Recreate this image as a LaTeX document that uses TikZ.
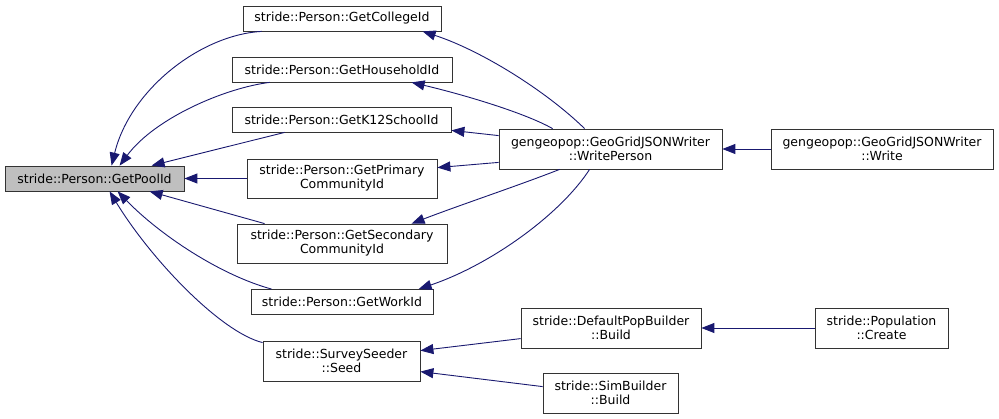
\documentclass[tikz,border=0pt]{standalone}
\usepackage{fontspec}
\setmainfont{DejaVu Sans}
\usetikzlibrary{arrows.meta}
\definecolor{edgec}{HTML}{191970}
\definecolor{poolfill}{HTML}{BFBFBF}
\begin{document}
\begin{tikzpicture}[x=1pt,y=-1pt,
  box/.style={draw=black!80, line width=0.8pt, fill=white, inner sep=0pt, align=center, font=\fontsize{12.5}{14}\selectfont},
  call/.style={draw=edgec, line width=0.9pt, -{Triangle[length=13pt,width=10pt]}}]
\useasboundingbox[fill=white] (0,0) rectangle (999,419);
\node[box, minimum width=179pt, minimum height=25pt, fill=poolfill] (pool) at (94.5,178.5) {stride::Person::GetPoolId};
\node[box, minimum width=198pt, minimum height=25pt] (college) at (342,18.5) {stride::Person::GetCollegeId};
\node[box, minimum width=220pt, minimum height=25pt] (household) at (342,69.5) {stride::Person::GetHouseholdId};
\node[box, minimum width=219pt, minimum height=25pt] (k12) at (341.5,119.5) {stride::Person::GetK12SchoolId};
\node[box, minimum width=190pt, minimum height=39pt] (primary) at (342,178.5) {stride::Person::GetPrimary\\CommunityId};
\node[box, minimum width=210pt, minimum height=39pt] (secondary) at (342,243.5) {stride::Person::GetSecondary\\CommunityId};
\node[box, minimum width=182pt, minimum height=25pt] (work) at (342,302) {stride::Person::GetWorkId};
\node[box, minimum width=157pt, minimum height=40pt] (seed) at (341.5,361) {stride::SurveySeeder\\::Seed};
\node[box, minimum width=223pt, minimum height=40pt] (wp) at (610.5,149) {gengeopop::GeoGridJSONWriter\\::WritePerson};
\node[box, minimum width=222pt, minimum height=40pt] (write) at (882,149) {gengeopop::GeoGridJSONWriter\\::Write};
\node[box, minimum width=180pt, minimum height=40pt] (dpb) at (611,328) {stride::DefaultPopBuilder\\::Build};
\node[box, minimum width=133pt, minimum height=40pt] (create) at (881.5,328) {stride::Population\\::Create};
\node[box, minimum width=135pt, minimum height=40pt] (simb) at (610.5,393) {stride::SimBuilder\\::Build};

\draw[call] ([xshift=19pt]college.south west) .. controls (200,35) and (130,90) .. ([xshift=107pt]pool.north west);
\draw[call] ([xshift=38pt]household.south west) .. controls (225,88) and (155,118) .. ([xshift=115pt]pool.north west);
\draw[call] ([xshift=53pt]k12.south west) -- ([xshift=147pt]pool.north west);
\draw[call] (primary.west) -- (pool.east);
\draw[call] ([xshift=28pt]secondary.north west) -- ([xshift=145pt]pool.south west);
\draw[call] ([xshift=21pt]work.north west) .. controls (220,275) and (160,235) .. ([xshift=113pt]pool.south west);
\draw[call] ([yshift=-2pt]seed.north west) .. controls (220,332) and (150,258) .. ([xshift=105pt]pool.south west);

\draw[call] ([xshift=86pt]wp.north west) .. controls (545,90) and (480,50) .. ([xshift=180pt]college.south west);
\draw[call] ([xshift=54pt]wp.north west) .. controls (525,113) and (465,95) .. ([xshift=180pt]household.south west);
\draw[call] ([yshift=-7pt]wp.north west) -- ([yshift=2pt]k12.south east);
\draw[call] ([yshift=7pt]wp.south west) -- ([yshift=-9pt]primary.north east);
\draw[call] ([xshift=61pt]wp.south west) .. controls (520,185) and (460,205) .. ([xshift=175pt]secondary.north west);
\draw[call] ([xshift=91pt]wp.south west) .. controls (560,215) and (490,265) .. ([xshift=168pt]work.north west);
\draw[call] (write.west) -- (wp.east);
\draw[call] (create.west) -- (dpb.east);
\draw[call] ([yshift=-31pt]dpb.north west) -- ([yshift=-10pt]seed.north east);
\draw[call] ([yshift=-14pt]simb.north west) -- ([yshift=-31pt]seed.north east);
\end{tikzpicture}
\end{document}
